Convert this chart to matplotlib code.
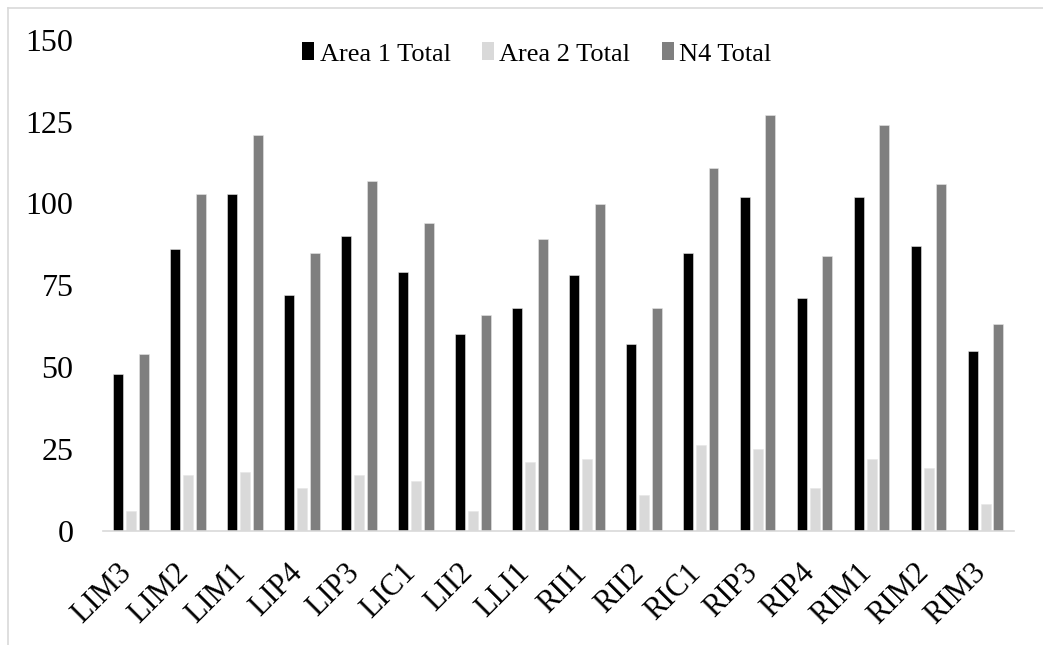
import numpy as np
import matplotlib
matplotlib.use('Agg')
import matplotlib.pyplot as plt
from matplotlib.lines import Line2D
from matplotlib.patches import Patch
import matplotlib.transforms as mtransforms

sites = ['LIM3', 'LIM2', 'LIM1', 'LIP4', 'LIP3', 'LIC1', 'LII2', 'LLI1',
         'RII1', 'RII2', 'RIC1', 'RIP3', 'RIP4', 'RIM1', 'RIM2', 'RIM3']
area1 = [48, 86, 103, 72, 90, 79, 60, 68, 78, 57, 85, 102, 71, 102, 87, 55]
area2 = [6, 17, 18, 13, 17, 15, 6, 21, 22, 11, 26, 25, 13, 22, 19, 8]
n4 = [54, 103, 121, 85, 107, 94, 66, 89, 100, 68, 111, 127, 84, 124, 106, 63]
names = ['Area 1 Total', 'Area 2 Total', 'N4 Total']
colors = ['#000000', '#d9d9d9', '#7f7f7f']
yticks = [0, 25, 50, 75, 100, 125, 150]

plt.rcParams['font.family'] = ['Liberation Serif', 'DejaVu Serif']

W, H = 1043, 645
fig = plt.figure(figsize=(W / 100, H / 100), dpi=100)
ax = fig.add_axes([102.7 / W, 1 - 530.5 / H, (1014 - 102.7) / W, (530.5 - 40) / H])

x = np.arange(len(sites))
bw = 0.175
step = 0.224
for k, vals in enumerate([area1, area2, n4]):
    ax.bar(x + (k - 1) * step, vals, bw, color=colors[k], edgecolor='#e6e6e6',
           linewidth=0.4, label=names[k], zorder=2)

ax.set_xlim(-0.5, len(sites) - 0.5)
ax.set_ylim(0, 150)
ax.set_yticks(yticks)
ax.set_yticklabels([str(v) for v in yticks], fontsize=23)
ax.tick_params(axis='y', length=0, pad=21)
ax.tick_params(axis='x', length=0, pad=20)
ax.set_xticks(x)
ax.set_xticklabels(sites, fontsize=22, rotation=45, ha='right')
off = mtransforms.ScaledTranslation(6 / 100, 0, fig.dpi_scale_trans)
for lab in ax.get_xticklabels():
    lab.set_transform(lab.get_transform() + off)

for s in ['top', 'right', 'left']:
    ax.spines[s].set_visible(False)
ax.spines['bottom'].set_color('#d9d9d9')
ax.spines['bottom'].set_linewidth(1.2)

handles = [Patch(facecolor=c, edgecolor='none') for c in colors]
fig.legend(handles, names, loc='center', bbox_to_anchor=(537 / W, 1 - 54 / H),
           ncol=3, frameon=False, fontsize=19, handlelength=0.45, handleheight=0.65,
           handletextpad=0.2, columnspacing=1.2)

# outer chart border (runs off the right and bottom edges)
fig.add_artist(Line2D([8 / W, 1.0], [1 - 8 / H, 1 - 8 / H], color='#d9d9d9', lw=1.2))
fig.add_artist(Line2D([8 / W, 8 / W], [0.0, 1 - 8 / H], color='#d9d9d9', lw=1.2))

fig.savefig('out.png', dpi=100)
